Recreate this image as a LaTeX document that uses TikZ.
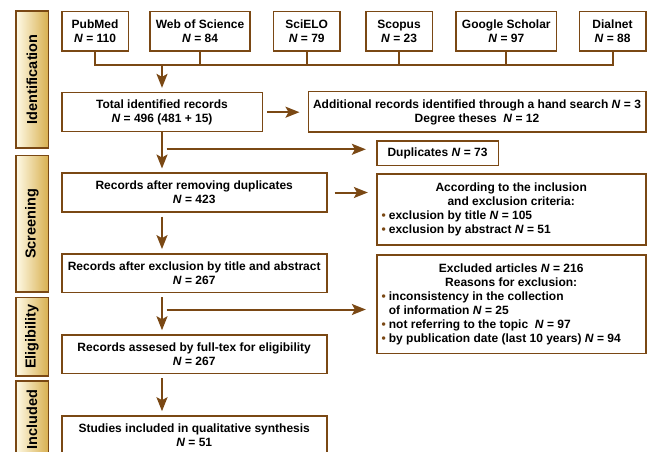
\documentclass[tikz,border=0pt]{standalone}
\usepackage{fontspec}
\setmainfont{Liberation Sans}
\usetikzlibrary{arrows.meta}
\definecolor{brn}{RGB}{122,72,20}
\definecolor{gold}{RGB}{216,176,80}
\definecolor{cream}{RGB}{255,251,232}
\newcommand\NN{\textit{N}}
\newcommand\bul{{\color{brn}\textbullet}\hspace{3pt}}
\begin{document}
\begin{tikzpicture}[x=1pt,y=-1pt,
  box/.style={draw=brn, line width=1.6pt, fill=white, align=center, text=black,
    font=\fontsize{12}{14}\selectfont\bfseries, inner sep=0pt},
  phase/.style={draw=brn, line width=1.6pt, left color=cream, right color=gold,
    inner sep=0pt, minimum width=32.6pt, font=\fontsize{14.5}{16}\selectfont\bfseries},
  arr/.style={draw=brn, line width=2pt, -{Stealth[length=14pt,width=11pt,inset=3pt]}},
  ln/.style={draw=brn, line width=2pt}]
\useasboundingbox (0,0) rectangle (649,452);
\clip (0,0) rectangle (649,452);
% phase labels
\node[phase, minimum height=137pt] (pid) at (32,79.5) {\rotatebox{90}{Identification}};
\node[phase, minimum height=136pt] (psc) at (32,223.7) {\rotatebox{90}{Screening}};
\node[phase, minimum height=78.7pt] (pel) at (32,336.7) {\rotatebox{90}{Eligibility}};
\node[phase, minimum height=78pt] (pin) at (32,419.7) {\rotatebox{90}{Included}};
% sources
\node[box, minimum width=66.6pt, minimum height=39.3pt] (pub) at (95,31.3) {PubMed\\\NN{} = 110};
\node[box, minimum width=100pt, minimum height=39.3pt] (wos) at (200,31.3) {Web of Science\\\NN{} = 84};
\node[box, minimum width=66.7pt, minimum height=39.3pt] (sci) at (306.7,31.3) {SciELO\\\NN{} = 79};
\node[box, minimum width=66.6pt, minimum height=39.3pt] (sco) at (399,31.3) {Scopus\\\NN{} = 23};
\node[box, minimum width=100.7pt, minimum height=39.3pt] (gsc) at (506.3,31.3) {Google Scholar\\\NN{} = 97};
\node[box, minimum width=66.4pt, minimum height=39.3pt] (dia) at (612.5,31.3) {Dialnet\\\NN{} = 88};
% main column
\node[box, minimum width=200.6pt, minimum height=39pt] (tot) at (162,112.2) {Total identified records\\\NN{} = 496 (481 + 15)};
\node[box, minimum width=337.4pt, minimum height=40.6pt] (add) at (477,112) {Additional records identified through a hand search \NN{} = 3\\Degree theses\ \ \NN{} = 12};
\node[box, minimum width=121.6pt, minimum height=24.7pt] (dup) at (437.5,153.3) {Duplicates \NN{} = 73};
\node[box, minimum width=265pt, minimum height=38.4pt] (rem) at (194.2,192.5) {Records after removing duplicates\\\NN{} = 423};
\node[box, minimum width=269pt, minimum height=71pt] (crit) at (511.2,209.5) {\begin{minipage}{259pt}\centering According to the inclusion\\and exclusion criteria:\par\raggedright\bul exclusion by title \NN{} = 105\\\bul exclusion by abstract \NN{} = 51\end{minipage}};
\node[box, minimum width=265pt, minimum height=38.7pt] (exta) at (194.2,273.3) {Records after exclusion by title and abstract\\\NN{} = 267};
\node[box, minimum width=269pt, minimum height=98.3pt] (excl) at (511.2,304.2) {\begin{minipage}{259pt}\centering Excluded articles \NN{} = 216\\Reasons for exclusion:\par\raggedright\bul inconsistency in the collection\\\phantom{\bul}of information \NN{} = 25\\\bul not referring to the topic\ \ \NN{} = 97\\\bul by publication date (last 10 years) \NN{} = 94\end{minipage}};
\node[box, minimum width=265pt, minimum height=38.3pt] (ass) at (194.2,354.2) {Records assesed by full-tex for eligibility\\\NN{} = 267};
\node[box, minimum width=265pt, minimum height=39pt] (stu) at (194.2,435.5) {Studies included in qualitative synthesis\\\NN{} = 51};
% bracket
\coordinate (bl) at (95,65);
\draw[ln] (pub.south) -- (pub.south |- bl) -- (dia.south |- bl) -- (dia.south);
\draw[ln] (wos.south) -- (wos.south |- bl);
\draw[ln] (sci.south) -- (sci.south |- bl);
\draw[ln] (sco.south) -- (sco.south |- bl);
\draw[ln] (gsc.south) -- (gsc.south |- bl);
\draw[arr, shorten >=4pt] (tot.north |- bl) -- (tot.north);
\draw[arr, shorten <=4pt, shorten >=8pt] (tot.east) -- (add.west |- tot.east);
% main flow
\coordinate (b1) at (166.7,149.3);
\coordinate (b2) at (166.7,309.5);
\draw[arr, shorten >=4pt] (tot.south) -- (tot.south |- rem.north);
\draw[arr, shorten >=10pt] (b1) -- (dup.west |- b1);
\draw[arr, shorten <=7pt, shorten >=8pt] (rem.east) -- (crit.west |- rem.east);
\draw[arr, shorten <=4pt, shorten >=4pt] (tot.south |- rem.south) -- (tot.south |- exta.north);
\draw[arr, shorten <=4pt, shorten >=4pt] (tot.south |- exta.south) -- (tot.south |- ass.north);
\draw[arr, shorten >=10pt] (b2) -- (excl.west |- b2);
\draw[arr, shorten <=4pt, shorten >=4pt] (tot.south |- ass.south) -- (tot.south |- stu.north);
\end{tikzpicture}
\end{document}
